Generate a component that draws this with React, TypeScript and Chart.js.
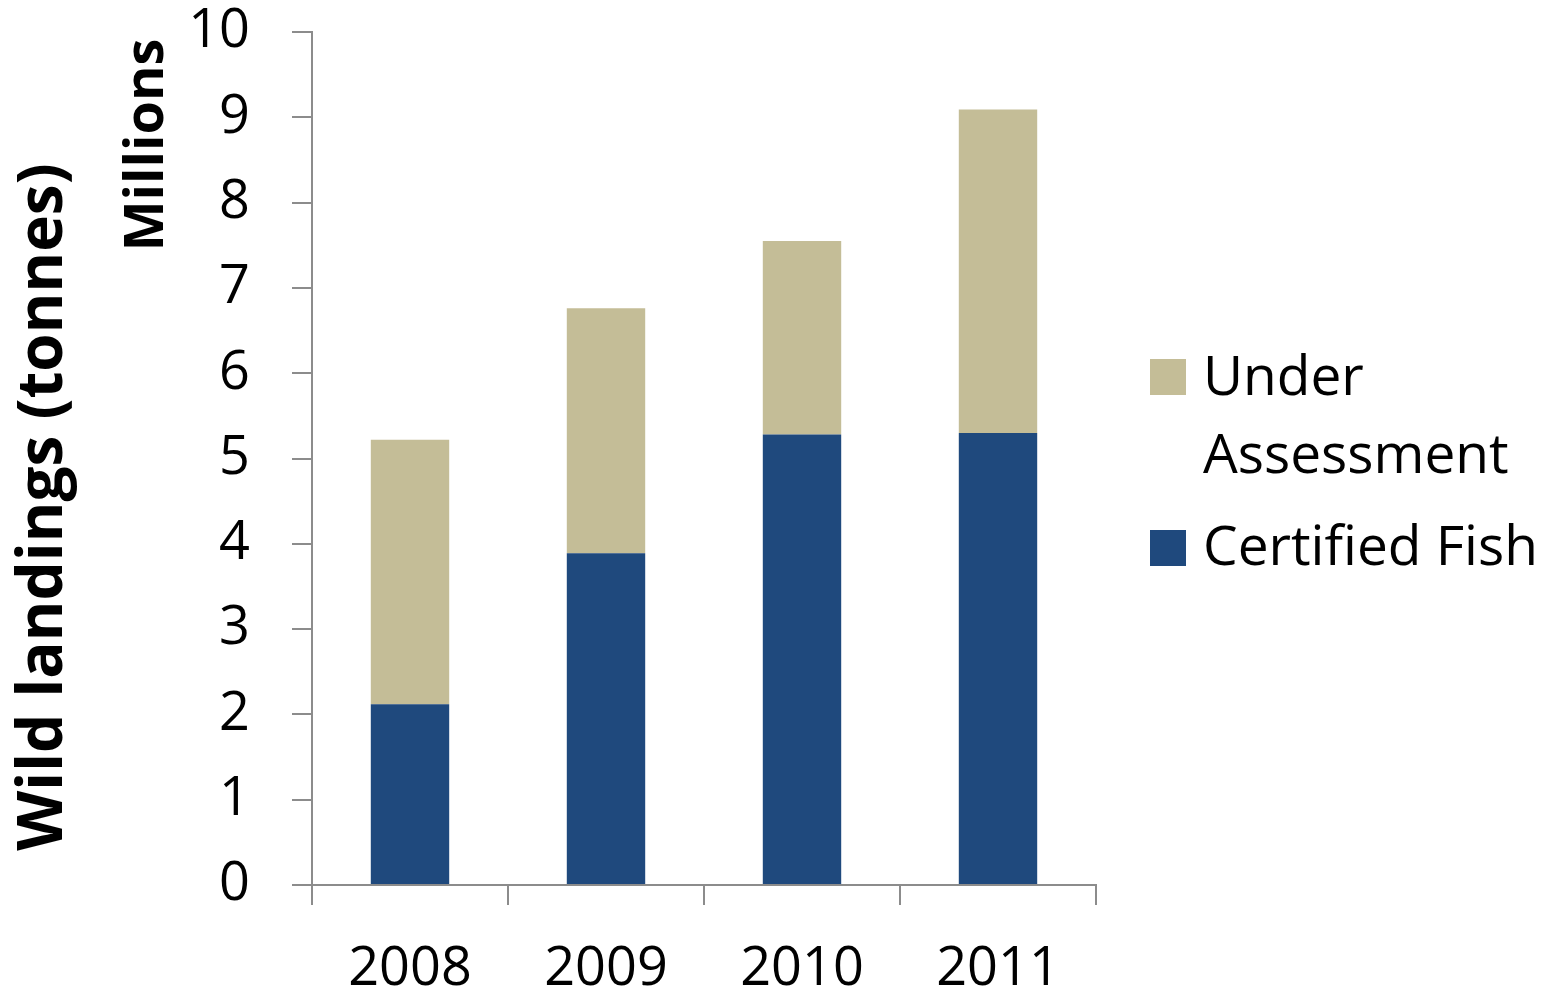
import React, { useEffect, useRef } from "react";
import { Chart, registerables } from "chart.js";

Chart.register(...registerables);

const years = ["2008", "2009", "2010", "2011"];
const certifiedFish = [2.12, 3.89, 5.28, 5.3];
const underAssessment = [3.1, 2.87, 2.27, 3.79];
const yTicks = [0, 1, 2, 3, 4, 5, 6, 7, 8, 9, 10];
const seriesNames = ["Certified Fish", "Under Assessment"];
const yTitle = "Wild landings (tonnes)";
const unitLabel = "Millions";

const NAVY = "#1F497D";
const TAN = "#C4BD97";
const AXIS = "#8c8c8c";
const FONT = "'Open Sans', 'Liberation Sans', sans-serif";

const overlayPlugin = {
  id: "overlay",
  afterDraw(chart: any) {
    const ctx = chart.ctx as CanvasRenderingContext2D;
    ctx.save();
    ctx.fillStyle = "#000";
    ctx.textAlign = "center";
    ctx.textBaseline = "alphabetic";
    // Rotated axis title
    ctx.font = `bold 62px ${FONT}`;
    ctx.save();
    ctx.translate(62, 507);
    ctx.rotate(-Math.PI / 2);
    ctx.fillText(yTitle, 0, 0);
    ctx.restore();
    // Units
    ctx.font = `bold 54px ${FONT}`;
    ctx.save();
    ctx.translate(163, 145);
    ctx.rotate(-Math.PI / 2);
    ctx.fillText(unitLabel, 0, 0);
    ctx.restore();

    // Legend
    const ds = chart.data.datasets;
    ctx.textAlign = "left";
    ctx.font = `55px ${FONT}`;
    // Under Assessment
    ctx.fillStyle = ds[1].backgroundColor;
    ctx.fillRect(1150, 359, 36, 36);
    ctx.fillStyle = "#000";
    const parts = String(ds[1].label).split(" ");
    ctx.fillText(parts[0], 1203, 395);
    ctx.fillText(parts.slice(1).join(" "), 1203, 473);
    // Certified Fish
    ctx.fillStyle = ds[0].backgroundColor;
    ctx.fillRect(1150, 530, 36, 36);
    ctx.fillStyle = "#000";
    ctx.fillText(String(ds[0].label), 1203, 565);
    ctx.restore();
  },
};

export default function App() {
  const ref = useRef<HTMLCanvasElement>(null);
  useEffect(() => {
    if (!ref.current) return;
    const chart = new Chart(ref.current, {
      type: "bar",
      data: {
        labels: years,
        datasets: [
          {
            label: seriesNames[0],
            data: certifiedFish,
            backgroundColor: NAVY,
            borderWidth: 0,
            barPercentage: 0.4,
            categoryPercentage: 1,
          },
          {
            label: seriesNames[1],
            data: underAssessment,
            backgroundColor: TAN,
            borderWidth: 0,
            barPercentage: 0.4,
            categoryPercentage: 1,
          },
        ],
      },
      options: {
        responsive: false,
        animation: false,
        layout: { padding: { top: 32, right: 453, left: 0, bottom: 0 } },
        plugins: {
          legend: { display: false },
          tooltip: { enabled: false },
          title: { display: false },
        },
        scales: {
          x: {
            stacked: true,
            grid: {
              display: true,
              drawOnChartArea: false,
              drawTicks: true,
              tickLength: 20,
              color: AXIS,
              lineWidth: 2,
              offset: true,
            },
            border: { display: true, color: AXIS, width: 2 },
            ticks: {
              color: "#000",
              font: { family: FONT, size: 54 },
              padding: 32,
              maxRotation: 0,
            },
            afterFit(scale: any) {
              scale.height = 106;
              scale.paddingLeft = 0;
              scale.paddingRight = 0;
            },
          },
          y: {
            stacked: true,
            min: 0,
            max: 10,
            afterBuildTicks(scale: any) {
              scale.ticks = yTicks.map((v) => ({ value: v }));
            },
            grid: {
              display: true,
              drawOnChartArea: false,
              drawTicks: true,
              tickLength: 20,
              color: AXIS,
              lineWidth: 2,
            },
            border: { display: true, color: AXIS, width: 2 },
            ticks: {
              color: "#000",
              font: { family: FONT, size: 54 },
              padding: 42,
            },
            afterFit(scale: any) {
              scale.width = 312;
              scale.paddingTop = 0;
              scale.paddingBottom = 0;
            },
          },
        },
      },
      plugins: [overlayPlugin],
    });
    return () => chart.destroy();
  }, []);
  return (
    <div style={{ position: "absolute", left: 0, top: 0, width: 1549, height: 991, background: "#fff" }}>
      <canvas ref={ref} width={1549} height={991} />
    </div>
  );
}
